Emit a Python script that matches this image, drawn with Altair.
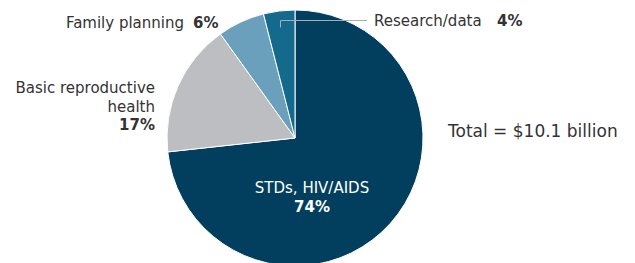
import altair as alt
import pandas as pd

categories = ["STDs, HIV/AIDS", "Basic reproductive health", "Family planning", "Research/data"]
values = [74, 17, 6, 4]
pct_labels = ["74%", "17%", "6%", "4%"]
colors = ["#023f5e", "#bdbec2", "#6aa0bb", "#146a8c"]
total_label = "Total = $10.1 billion"

df = pd.DataFrame({
    "category": categories,
    "value": values,
    "pct": pct_labels,
    "order": list(range(len(categories))),
})

FONT = "DejaVu Sans"
TXT = "#333333"

pie = alt.Chart(df).mark_arc(outerRadius=128, stroke="white", strokeWidth=1).encode(
    theta=alt.Theta("value:Q", stack=True),
    order=alt.Order("order:Q"),
    color=alt.Color("category:N", scale=alt.Scale(domain=categories, range=colors), legend=None),
    x=alt.value(287),
    y=alt.value(130),
)

one = pd.DataFrame({"a": [0]})

lead_v = alt.Chart(one).mark_rule(color="#a8adb2", strokeWidth=1).encode(
    x=alt.value(272.5), y=alt.value(12.5), y2=alt.value(19.5))
lead_h = alt.Chart(one).mark_rule(color="#a8adb2", strokeWidth=1).encode(
    x=alt.value(272.5), x2=alt.value(359), y=alt.value(12.5))


def txt(text, x, y, align="left", bold=False, size=15, color=TXT):
    return alt.Chart(one).mark_text(
        text=text, align=align, baseline="alphabetic", font=FONT, fontSize=size,
        fontWeight="bold" if bold else "normal", color=color,
    ).encode(x=alt.value(x), y=alt.value(y))


def pct_txt(cat, x, y, align="left", color=TXT):
    return alt.Chart(df).transform_filter(alt.datum.category == cat).mark_text(
        align=align, baseline="alphabetic", font=FONT, fontSize=15, fontWeight="bold", color=color,
    ).encode(text="pct:N", x=alt.value(x), y=alt.value(y))


layers = [
    pie, lead_v, lead_h,
    txt("Family planning", 176, 20, align="right"),
    pct_txt("Family planning", 185, 20),
    txt("Research/data", 366, 18),
    pct_txt("Research/data", 489, 18),
    txt("Basic reproductive", 147, 85, align="right"),
    txt("health", 147, 104, align="right"),
    pct_txt("Basic reproductive health", 147, 122, align="right"),
    txt("STDs, HIV/AIDS", 304, 185, align="center", color="white"),
    pct_txt("STDs, HIV/AIDS", 304, 204, align="center", color="white"),
    txt(total_label, 440, 129, size=17),
]

chart = alt.layer(*layers).properties(
    width=619, height=255, padding=0,
    autosize=alt.AutoSizeParams(type="none"),
).configure_view(stroke=None)

chart.save("out.html", embed_options={"renderer": "svg", "actions": False})
